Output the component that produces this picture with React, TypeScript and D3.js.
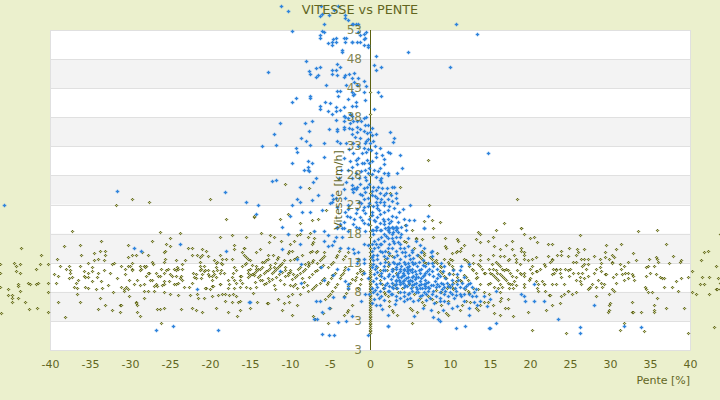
import React, { useEffect, useRef } from 'react'
import * as d3 from 'd3'

type Pt = [number, number]

const titleText = 'VITESSE vs PENTE'
const xTicks = [-40, -35, -30, -25, -20, -15, -10, -5, 0, 5, 10, 15, 20, 25, 30, 35, 40]
const yTicks = [53, 48, 43, 38, 33, 28, 23, 18, 13, 8, 3, -2]
const yTickLabels = ['53', '48', '43', '38', '33', '28', '23', '18', '13', '8', '3', '3']

// blue series (one reading per point, pente %, vitesse km/h)
const blueHigh: Pt[] = [
  [-11.1,57.1],[-10.3,56.2],[-6.1,57.2],[-4.5,56.4],[-4,57.1],[-6.2,55.4],[-6,55.7],[-5.1,55.5],[-3.1,55.5],[-3.1,55],[-2.8,54.8],[-5.7,54],[-2.3,54.1],[-2.1,54],[-1.8,54],[-1.5,54.1],[10.8,54.1],[-9.8,52.8],[-6,52.9],[-5.7,52.6],[-.5,52.6],[-.7,52.3],[-1.5,52.6],[-1.3,52.1],[-.6,51.6],[-.7,51.4],[13.4,52.3],
  [-6.3,52.1],[-6.3,51.6],[-5.3,50.7],[-4.8,50.9],[-4.8,50.5],[-4.6,51.4],[-4.2,51.6],[-4.2,51],[-3.3,51.7],[-3,51.6],[-3.1,50.9],[-2.3,51],[-2.2,50.9],[-1.6,50.9],[-1.3,50.9],[-.7,50.4],[-.2,50.5],[-.3,50],
  [-3.5,49.5],[-3.5,49.2],[4.8,49.3],[.8,48.5],[-8,47.6],[.5,46.9],[.7,46.2],[1.4,46.6],[10,46.6],[-4.1,47.1],[-3.7,46.6],[-6.8,46.4],[-6.2,46.6],[-4.7,46.2],[-4.3,46.2],[-12.7,45.7],[-7.6,45.9],[-7.5,45.4],[-6.8,45],[-6.5,45.2],[-4.8,45.4],[-4.1,45.2],[-3.1,45.2],[-3.2,45],[-2.6,45.4],[-2,45.6],[-2.3,44.7],[-1.5,44.7],[-.7,44.2],[-2,44],[-5.5,43.5],[-3,43.5],[-.5,43.3],[-1.6,43.5],[-4.1,42.5],[-3.7,42.5],[-2.2,42.3],[-2,42],[-.7,42.3],[1,42.3],[1.4,41.6],[-4,41.6],[-2.7,41.1],[-2.1,41.8],[-9.2,41.3],[-9.7,40.7],[-7.5,41.6],[-7.5,41.3],[-.6,40.9],[-5.6,40.6],[-5,40.4],[-1.8,40.7],[-2.3,40],[-1.8,39.9],[-6.3,39.9],[-6.3,39.4],[-4.3,39.7],[-3.3,39.7],[-3.7,39.2],[-4.3,39],[-5.2,39],[-4.8,38.5],[.5,39.5],
  [-3.2,38.3],[-3.1,38],[-2.5,38.5],[-2.2,38.2],[-2.7,37.8],[-.5,38],[-.7,37.8],[-4.2,37.5],[-3.2,37.3],[-2.5,37.1],[-2.1,37.3],[-1.6,37.3],[-1.1,37.3],[-.6,36.6],[-11.2,37],[-8.1,37],[-7.2,37.3],[-1.6,36.4],[-5.1,35.9],[-4.1,35.9],[-3.3,36.3],[-3.2,35.9],[-2.6,36.1],[-2.3,35.9],
]
const blueMiddle: Pt[] = [
  [-12,35.1],[-8.6,34.5],[-7.6,35.6],[-7.5,33.2],[-8,34],[-13.5,33],[-11.7,33.2],[-9.3,32.8],[-9.1,32.1],[-5.8,33.5],[-4.1,35.6],[-4.1,34],[-3.7,33.5],[-9.8,30.2],[-7.8,30.4],[-7.2,30.2],[-7.8,29.4],[-7.6,28.7],[-8.3,28.9],[-7.7,28.9],[-5.8,31.1],[-12.3,27],[-11.8,27.3],[-8.8,26.1],[-7.1,26.8],[-6.8,27.5],[-6.5,24.6],[-7.3,23.7],[-9.1,23.9],[-8.7,23.5],[-9.8,23],[-14,22.9],[-8.5,21.8],[-7.5,21.7],[-6,22],[-14.2,21.3],[-10,21],[14.75,31.9],
  [-2.2,35.2],[-1.6,35.4],[-.8,35.6],[0,35.4],[.7,35.2],[2.5,35.4],[-.2,34.2],[-.6,33.5],[0,33.5],[.4,34],[-.8,32.8],[-.2,32.5],[-1.5,33],[-2.1,33.5],[3,34.4],[2.9,33.7],[1.3,32.7],[2.3,32],[2.5,31.8],[3.8,31.5],[1.5,31.6],[1.8,30.9],[1.8,30],[1.3,29.2],[.8,31.1],[-2.1,31.8],[-1.5,31],[-1,31.8],[-.5,32],[-1,30.1],[-1.6,29.9],[-.1,30.2],[-.7,30.1],[-2.2,29.4],[-2.7,28.9],[-1.8,28.5],[-2.3,27.5],[-3,26.9],
  [4,29.2],[3.4,28.4],[2.3,28.5],[2.2,28],[1.7,28.4],[1.4,27.5],[-.2,28.4],[.3,28.2],[.8,27.8],[1.2,27.3],[1.4,26.8],[1,26.1],[.4,26],[-.1,26.5],[-.5,27.2],[-.6,27.8],[-.8,25.8],[-2.2,26.3],[-2,25.8],[-1.6,26.1],[-2.3,25.6],[-2.1,25.1],[-1.7,25.6],
  [3,26.1],[2.8,26],[3.3,24.9],[2.1,25.8],[2.3,23.9],[3.3,24.1],[3.4,23.2],[5,23],[1.2,24.9],[1.7,24.6],[.9,24.1],[.3,24.6],[-.3,24.1],[-1,24.6],[-.7,23.9],[-1.1,23.2],[-.7,22.5],[-.1,23.2],[.7,23.5],[1.2,23.4],[.4,22.7],[.9,22.4],[1.8,23.5],[2.4,22.7],[1.7,21.7],[1.3,21.3],[.2,21.8],[-.6,21.5],[-1.6,22.3],[-1.8,21.5],[-2,20.6],[-1,20.4],[-.1,20.6],[.9,20.8],[2.2,20.6],[3.2,20.8],
  [-4.8,24.6],[-4.8,23.5],[-5,23.2],[-4.6,23.9],[-4.2,24.1],[-3.3,25.6],[-3.1,24.1],[-2.7,23],[-2.8,22.2],[-4.1,22.5],[7.3,21.1],[6.7,18.9],[5.5,20.3],[4.2,20.6],[4.9,20.3],[3.3,19.1],[2.9,18.9],[2.4,19.8],[1.7,19.6],[1.2,19.8],[.5,20.3],[-.8,19.8],[-2.1,19.6],[-3.2,20],[-4.1,19.1],[-3.8,19.6],[-3.5,18.9],[-2.8,18.4],[-1.8,19.1],[-.6,18.4],[.4,18.7],[1.4,18.6],[2.2,18.7],
]
const blueUpperFill: Pt[] = [
  [-.4,26],[.2,25.3],[.8,25.5],[1.5,25.8],[2,25],[2.6,24.7],[2.8,23.6],[1.4,24],[.6,24.4],[-.6,25.2],[-1.3,24.8],[-1.4,23.5],[-.3,22.8],[.9,23],[1.7,23],[2.2,22.1],[1.1,22],[.3,21.2],[-.9,22],[-1.3,20.9],[.6,20.2],[1.6,20.6],[2.7,21.1],[3.6,21.8],[4.1,22.3],[3,22.4],[-.2,19.7],[.8,19.2],[1.8,20.1],[2.6,20.2],[3.5,20],[4.5,19.4],[-1.4,18.9],[-2.5,20.9],[-2.9,21],[-3.1,21.8],
  [-.6,29],[-.1,29.3],[.5,29],[1,28.8],[-1.1,28.7],[-1.4,27.6],[-1.2,26.6],[-.4,30.7],[.2,30.5],[.7,31.9],[.1,32.4],[.6,33],[-.5,33.9],[-1.2,34.5],[-1.9,34.6],[-1.3,35.9],[-.3,36.6],[.3,36.2],[-.4,35.3],[.2,35],[-1.8,30.6],[-2.5,30.4],[-2.6,32.5],[-3,33.5],[-3.3,31],[-3.6,29],[-3.9,27.5],
]
const blueLeft: Pt[] = [
  [-45.8,23],[-31.6,25.4],[-18.1,25.1],[-15.5,23.5],[-29.5,15.5],[-28.6,15.1],[-23.7,16.2],[-18,15],[-21.6,8.4],[-26.7,1.4],[-24.6,2.2],[-19,1.5],[-15.1,6.2],
  [-11,19.1],[-8.6,18.6],[-10.3,17.9],[-7,18.4],[-5.7,18.4],[-5.2,17.7],[-4.3,17.4],[-3.5,17.4],[-4.1,18.9],[-3.2,18.9],[-5.8,16.7],[-8.8,16.3],[-11,15.3],[-4.8,16],[-5.2,15.8],[-4.5,16.7],[-3.7,15.6],[-2.8,15.5],[-2.1,15.3],[-1.5,14.8],[-2,14.6],[-.8,16.3],[-.3,16],[-.8,13.7],[-.7,12.9],[-1.5,13.7],[-1.6,12.9],[-9.1,13.6],[-8.6,12.7],[-6.1,12.3],[-4.1,12],[-4.6,10.9],[-5.8,10],[-8.6,9.6],[-11.3,11.5],[-2.7,12],[-.8,11.2],[-.3,10.3],[-3.1,9.9],[-2.7,9.4],[-3.2,7.1],[-2.7,8.6],[-4.6,7.1],[-6.8,6.4],[-6.3,6.5],[-5.1,5.3],[-6,4.5],[-6.6,3.4],[-7,3.3],[-4,2.8],[-3,2.9],[-2.3,3.8],[-6,.7],[-5.1,.5],[-4.5,.5],[-15,6.2],[-.6,7.7],[-.1,7.7],[-1.1,6.5],[-.2,.6],
]
const blueRight: Pt[] = [
  [2.2,19.2],[2.4,18.9],[2.7,19.2],[2.9,18.9],[3.2,19.2],[3.4,18.9],[2.2,18.6],[2.4,18.2],[2.7,17.9],[2.9,18.2],[3.2,18.6],[3.5,18.2],[1.9,18.9],[1.2,18.6],[.7,18.6],[3.7,17.5],[3.2,17.5],[2.7,17.2],[2.2,17.2],[1.7,17.9],[1.4,17.5],[.9,19.2],[.2,18.6],[.4,17.9],[3.9,19.2],[4.5,18.6],[6.7,18.9],
  [1.7,16.8],[1.4,16.2],[.7,16.2],[.2,16.2],[1.2,16.2],[2.4,16.2],[2.9,16.8],[3.7,16.3],[4.2,15.5],[4.8,17.3],[5.7,16.8],[6.2,16],[6.8,15.6],[.2,15.1],[1.2,15.1],[1.9,15.1],[.9,14.4],[1.7,14.1],[2.4,14.6],[3.2,15.1],[3.7,15.6],[4.4,14.8],[5.2,14.8],[5.9,14.4],[7.7,15.1],[7.6,14.8],[7.7,14.1],[5.4,13.8],
  [.4,14.4],[.9,13.7],[.4,13.4],[.4,12.7],[.6,12],[.9,11.4],[1.4,11.2],[1.9,13.1],[2.4,12.7],[2.9,13.1],[3.4,12.7],[3.9,12.4],[4.4,12.7],[4.9,12.4],[5.4,12.7],[5.9,12.4],[6.4,12],[6.9,12.4],[7.4,12],[8.4,12],[9.2,12.4],[11.4,12.4],[11.2,11.7],[12.4,12.7],
  [1.7,12.4],[1.9,11.7],[2.4,11],[2.9,10.7],[3.2,10],[2.7,9.6],[2.4,9],[2.9,8.6],[3.4,8.6],[3.7,7.9],[4.2,7.2],[4.7,7.6],[5.2,8.2],[5.7,7.9],[6.2,7.2],[6.7,7.9],[7.2,8.2],[7.7,7.6],[8.2,7.2],[8.7,6.5],[9.2,6.5],[9.7,7.2],[10.2,7.7],[10.7,8.2],[11.2,7.6],[11.4,7.2],[8.9,9.6],[9.4,10.3],[9.9,11],[10.4,11.7],[10.9,11],[10.2,10],[10.9,9.3],[11.7,8.6],[12.4,7.6],[13.2,7.2],[14.2,7.2],[13.7,6.5],[13.4,5.8],[12.4,5.2],[12.4,4],[10.2,5.3],[7.9,3.6],[8.5,3.3],[8.7,2.9],[10.7,1.7],[11.9,2.2],[14.9,1.7],[5.5,3.8],[2.3,4],[2.3,2.2],[2.3,2.1],[.8,5.8],[1.3,5.8],[.2,6],[.9,7.7],[1.4,7.2],[.4,7.9],[.2,8.6],[.7,9.3],[1.2,9.6],[.7,10.3],[1.4,10.7],
  [6.9,11.3],[7.4,11],[7.9,10.7],[8.4,10.3],[6.9,9],[7.4,8.6],[7.9,8.2],[8.4,9.3],[1.7,10.3],[2.1,9.6],[2.2,8.2],[1.7,8.6],[1.2,8.2],[3.2,12],[3.7,12],[4.2,12],[2.7,12],[4.7,12],[5.2,12],
  [15,6.7],[15.8,8.2],[18.9,7.7],[19.4,6.5],[20.5,9.3],[20.5,6.5],[21.7,6.4],[28,5.7],[23.5,3.3],[15.7,2.7],[26.2,1.9],[26.2,1],[15,1.7],[19.3,7.2],[33.9,2],[31.7,2.2],
]
const blueCore: Pt[] = [
  [3.7,11.6],[4.1,11.2],[4.6,11.5],[5.3,11.4],[5.8,11],[6.3,11.3],[3.4,10.9],[3.9,10.5],[4.3,10.9],[4.8,10.6],[5.4,10.8],[6,10.5],[6.6,10.7],[3.6,10.1],[4.1,9.9],[4.5,10.3],[5,10],[5.6,10.2],[6.2,9.9],[6.9,10.1],[3.8,9.4],[4.4,9.2],[4.9,9.5],[5.5,9.3],[6.1,9.1],[6.7,9.4],[7.3,9.7],[3.3,9.9],[4.2,8.8],[5.1,8.7],[5.9,8.5],[6.5,8.7],[7.6,9.2],[8.1,9.8],[8.7,10.7],[7.1,11.6],[7.8,11.5],[8.5,11.1],[9.1,11.6],[3.1,9.1],[2.6,10.2],[2.2,10.7],[1.9,9.2],[1.6,11.8],[2.8,11.5],[3.3,12.3],[4.6,12.3],[5.6,13],[6.6,12.6],[7.9,12.5],[8.9,13],[6.6,13.4],[5,13.6],[3.8,13.6],[3,14],[4.4,14.2],[2.1,13.8],[1.2,13],[.7,12.4],[1.5,14.8],[2.8,15.6],[3.5,16.6],[4.7,15.9],[5.3,15.2],[.5,16.8],[1,17.1],[2,17.6],[3,16.4],[3.9,18],
  [9,8.4],[9.6,9.5],[10,8.9],[11,10],[11.7,10.6],[12.5,9.5],[13,8],[12,9],[10.5,6.9],[11.8,6.5],[13,6.3],[8,6],[7,6.6],[6,6.6],[5,7],[4.2,6.5],[3.2,7.2],[2.8,7.6],[9.3,7.7],[9.8,6],[10.9,5.5],[14.6,5.5],
  [4.3,11.7],[5,11.8],[5.6,11.6],[6.1,11.7],[3.5,11.3],[4,10.8],[4.7,11.2],[5.2,10.5],[5.7,10.6],[6.4,10.4],[6.8,10.9],[3.5,10.5],[4.2,10.1],[4.7,9.8],[5.3,9.8],[5.8,9.6],[6.4,9.4],[7,9.6],[3.7,9.7],[4.1,9.5],[4.6,9],[5.2,9.1],[5.7,8.9],[6.3,8.6],[6.9,8.6],[7.3,8.9],[7.9,9.2],[8.2,8.8],[8.6,9],[9.1,9.3],[9.2,8.9],[9.8,9],[10.3,9.4],[10.6,8.7],[11.2,8.8],[11.5,9.5],[12.2,9.4],[12.8,8.9],[13.3,8.5],[8.7,8],[9.4,8.1],[10,7.9],[10.8,7.5],[11.8,7.7],[12.7,7.3],[3.2,9.4],[2.8,8.9],[2.4,8.2],[2.6,7.6],[3.3,6.6],[3.8,6.9],[4.6,6.8],[5.4,6.5],[6.5,7.4],[7.5,7],[8.8,7],[4.3,8],[4.9,7.8],[6,7.9],[7,7.7],[3,13],[3.6,13],[4.2,13.1],[4.8,13],[5.2,13.2],[6.1,13.2],[7.2,13],[7.7,12.9],[2.3,15.5],[3.4,14.4],[4,14.9],[4.9,14.3],[6.4,14.8],[1,15.7],[.5,15.6],[.3,13.9],[.3,12.2],[.5,11],[.4,9.8],[.9,8.9],[.6,8.3],[1.1,7],[.5,6.8],[1.8,6.6],[3.1,5.9],[7.6,4.9],[6.6,5.2],[1.5,5.1],[9.1,4.9],
]

// olive series
const oliveZero: number[] = [.9,1.2,1.5,1.8,2.1,2.4,2.7,3,3.3,3.6,3.9,4.2,4.5,4.8,5.1,5.4,5.7,6,6.3,6.6,6.9,7.2,7.5,7.8,8.1,8.4,8.7,9,9.3,9.6,9.9,10.2,10.5,10.8,11.1,11.4,11.8,12.2,12.6,13,13.6,14.2,14.8,15.5,16.2,17.5,18.4,19.5,21,23,25,28,38.5,42.3]
const oliveFarLeft: Pt[] = [
  [-46.2,12.7],[-46.2,11.3],[-46.2,8.9],[-46.1,4.3],[-43.6,15.6],[-44.5,12.9],[-44.3,12.4],[-43.7,12.7],[-44.3,11.5],[-43.7,11.2],[-41.1,14.4],[-41.2,12.7],[-41.7,11.9],[-40.2,12.7],[-40.3,9.6],[-40.3,7.9],[-40.3,4.6],[-41.6,5.3],[-42.6,5.1],[-43.1,6.3],[-44,7],[-44.8,6.3],[-44.7,7.5],[-44.7,6.9],[-45.2,7.4],[-45.2,8.4],[-43.8,8.1],[-44,9.4],[-44,9],[-42.8,9.6],[-42.5,9.3],[-41.8,9.3],[-41.5,9.5],
  [-37.3,18.4],[-31.8,23],[-29.7,23.9],[-27.6,23.5],[-20,23.9],[-18,20.5],[-38.3,15.8],[-36.3,16],[-33.6,16.8],[-39.1,13.6],[-38.7,12.5],[-37.6,12.5],[-38,12],[-37.5,11.7],[-37.5,11.3],[-39.5,11],[-39,10.7],[-37.6,10.3],[-37.2,10.5],[-39.3,9.6],[-36.5,10],[-36.7,9.6],[-37,8.9],[-36.6,8.6],[-35.6,8.9],[-35.3,8.6],[-36.6,7.6],[-39,6.3],[-36.2,6.3],[-38.1,3.6],[-36.1,14.4],[-36.2,12.4],[-35.2,13],
  [-34.5,14.6],[-33.8,15],[-33.1,15],[-33.1,14.3],[-34.5,13.4],[-34,13.7],[-33.3,13.4],[-32.2,12.7],[-32,12.9],[-30.3,13.9],[-30.2,16],[-35.7,11.5],[-35.7,10.8],[-35.6,10.5],[-35.2,11.2],[-35.2,10.6],[-34.8,12.2],[-34.7,11.5],[-34.1,10.6],[-34,11.3],[-33.2,11.7],[-32.5,11.2],[-31.6,10.3],[-31.1,12.4],[-30.6,11.9],[-30.6,11],[-30.2,12.4],[-30.1,10],[-34.8,9.8],[-33.6,9.8],[-34.2,8.4],[-33.5,8.6],[-32.8,9.1],[-32.1,7.9],[-31.1,8.9],[-30.8,8.4],[-30.5,8.8],[-30.7,8.2],[-30.3,8.4],[-33.8,6.9],[-30.1,7.2],[-33.1,5.8],[-31.3,5.8],[-31.1,5.8],[-34,5],[-32.3,4.8],[-31.2,4.6],
]
const oliveLeft: Pt[] = [
  [-26.2,18.2],[-23.8,18.1],[-18.8,17.5],[-17.3,17.7],[-15.5,17.5],[-27.3,16.8],[-25,17.2],[-25.5,16.2],[-25,15.8],[-25.6,15],[-25.7,14.8],[-28.5,14.8],[-27.7,14.3],[-29.8,14.4],[-29.2,14.4],[-22.8,15.6],[-22.3,15.5],[-22.2,14.4],[-21,15.3],[-20.5,15.1],[-21.6,14.3],[-21.3,13.9],[-21,14.3],[-20.3,14.1],[-18.8,14.4],[-18,13.7],[-18.5,13.6],[-17,16],[-17,15.3],[-15.8,15.5],[-15.7,15.6],[-16,14.8],[-15.7,14.4],[-15.5,13.9],[-15.2,13.7],[-17.2,13.6],[-25.6,13.6],[-25.8,13.1],[-24.2,13.4],[-23.1,13.4],[-23.5,12.7],[-27.2,13.2],[-27.1,12.7],[-21.3,13.2],[-19.5,13.4],[-19.3,12.9],[-19.1,13.1],[-18.6,12.9],[-18.5,12.7],
  [-29.8,12.9],[-30,12.4],[-29.7,12],[-29.8,11.7],[-28.7,12.5],[-28.2,12.4],[-28,12.5],[-28.6,12],[-28.7,11.7],[-28.1,12.2],[-27.6,11.3],[-27.7,11.2],[-28,10.7],[-26.1,11.9],[-25.5,11.7],[-25.2,11.9],[-24.5,11.9],[-24.2,11.7],[-24,12],[-23.5,11.9],[-24.1,12.2],[-26.7,11.3],[-25.8,11.2],[-26.3,10.7],[-26.5,10.8],[-27.2,10.1],[-27.5,10],[-29.1,10],[-29.5,9.4],[-28.8,9.1],[-28.3,9.3],[-26.7,9.4],[-27,9],[-26.6,9],[-26,9.1],[-25.7,9.8],[-25.8,9.3],[-25,11],[-24.8,10.7],[-24.3,10.8],[-25.1,9.8],[-24.5,9.3],[-24.2,9.3],[-24,9.6],[-23.7,10.3],[-23.5,10.1],[-23.6,10.7],
  [-25,7.6],[-24,7.4],[-25.7,7.9],[-27,8.1],[-27.7,8.2],[-28.2,8.1],[-28.2,6.9],[-23.2,8.8],[-22.6,8.9],[-22.2,9.6],[-22,10.5],[-22.1,11.3],[-21.8,10.3],[-21.3,12.4],[-21.1,12],[-21.2,11.7],[-20.8,11.5],[-20.6,11.7],[-20.7,12.4],[-20.2,11.7],[-20.3,11],[-20.1,10.8],[-19.7,10.7],[-21,11],[-21.8,11],[-21.1,10.3],[-19.6,11.5],[-19.3,12.2],[-19.1,11.7],[-19.5,11],[-19.2,10.5],[-19.7,10],[-18.8,11.2],[-18.6,11.7],[-18.3,11.3],
  [-20.5,8.6],[-20.6,8.6],[-19.8,9],[-19.6,9],[-20,8.4],[-18.8,9.3],[-18.7,9.4],[-17.7,10.1],[-17.6,9.3],[-17.7,8.6],[-17,12.2],[-16.8,11.7],[-17.1,11.2],[-17.2,10.5],[-17,10.1],[-16.2,10.8],[-16.1,10.7],[-16,12.4],[-15.5,12.9],[-15.6,12.7],[-15.2,11.7],[-15.3,11.2],[-15.2,10.5],[-16.2,10.1],[-16.8,9.6],[-16.3,8.9],[-17,8.6],[-15.5,8.9],[-16,9.6],
  [-22.5,7.4],[-21.6,7.7],[-21.5,7],[-20.7,6.9],[-19.7,7.2],[-19,7.4],[-18.5,7.6],[-18.1,7.7],[-17.6,7.4],[-17.1,7.6],[-16.7,7.2],[-18.1,6.4],[-17.2,6.2],[-16.5,6.2],[-16.2,6.4],[-19.3,5.3],[-22.2,5.3],[-21.8,4.8],[-21,4.5],[-17.7,4.5],[-16.6,3.9],[-16.3,4.8],[-29.3,6.2],[-29.2,6],[-29.1,5.8],[-29.1,4.6],[-28.8,3.8],[-26.6,5],[-26.2,5],[-25.7,5.2],[-23.6,5],[-26.1,2.7],
]
const oliveStreaks: Pt[] = [
  [-13.6,18.1],[-12.5,17.7],[-12,17.4],[-11.1,16.7],[-10.3,17.9],[-12.6,16.5],[-9.5,16.8],[-10,16.3],[-9.1,17.7],[-8.8,17.9],[-7.7,17.5],[-7.5,18.1],[-7,17.2],[-7.1,16.5],[-7.3,16.2],[-10.1,15.1],[-9.8,15.1],[-10.2,14.6],[-14.2,14.8],[-13.7,15.3],[-12.7,14.4],[-12.1,14.3],[-11.5,13.9],[-11.6,13.7],[-9.5,13.6],[-9.2,13.8],[-9.1,13.9],[-8.5,14.4],[-7.5,14.8],[-7.3,15],[-6.6,15],[-6.7,14.8],[-5.8,14.8],
  [-15,10.9],[-14.8,11.1],[-14.5,11.3],[-14.3,11.6],[-14,11.9],[-13.8,12],[-13.5,12.2],[-13.5,13.1],[-13.3,13.2],[-13,13.4],[-12.8,13.6],[-12.3,11.2],[-12,11.5],[-11.8,11.9],[-11.5,12.2],[-11.3,12.6],[-11,13],[-10.8,13.4],[-14,10.6],[-13.7,10.9],[-13.3,11.2],[-13,11.5],[-12.8,11.8],[-12.5,12.1],
  [-9.8,10.2],[-9.4,10.5],[-9.1,10.9],[-8.8,11.2],[-8.4,11.6],[-8.1,12],[-7.8,12.5],[-7.6,12.7],[-7.3,13.2],[-7.1,13.5],[-7.8,13.1],[-8.1,12.8],[-7.7,8.1],[-7.3,8.5],[-7,8.8],[-6.7,9.2],[-6.3,9.6],[-6,10],[-5.8,10.4],[-7.6,10.6],[-7.3,11],[-6.9,11.5],[-6.6,11.8],[-6.3,12.3],[-5.9,12.6],
  [-5.6,6.8],[-5.3,7.2],[-5,7.7],[-4.7,8.2],[-4.4,8.8],[-4.1,9.3],[-5.4,9.3],[-5.2,9.7],[-4.9,10.3],[-4.7,10.9],[-4.4,11.3],[-3.8,10.3],[-3.6,10.9],[-3.4,11.3],[-3.3,11.8],[-3.1,12.3],[-4.3,13.9],[-4.1,14.4],[-3.9,15],[-3.8,15.6],[-3.4,13.6],[-3.1,14.2],[-2.8,14.9],[-2.7,9],[-2.5,9.6],[-2.3,10.2],[-1.9,10],[-1.8,10.6],[-1.6,11.2],[-1.3,11.5],[-1.2,12],[-3.2,4.1],[-2.9,4.5],[-2.7,4.8],[-5.9,4.3],[-5,5.2],[-5.2,2.7],[-7.1,3.8],[-6.9,3.4],
  [-6.6,13],[-6.3,13.4],[-6,13.8],[-5.7,14.1],[-5.2,12.2],[-4.9,12.7],[-4.6,13.2],[-3.2,7.2],[-3,7.8],[-2.8,8.4],[-1.5,8.6],[-1.3,9.4],[-1.1,10.2],[-1,11],[-.9,11.6],[-9,11.9],[-8.7,12.2],[-10.6,10.7],[-10.3,11.2],[-10,11.4],[-12.6,9.9],[-12.2,10.2],[-11.8,10.6],[-11.4,11],[-11,11.4],[-10.6,11.8],
  [-15,13.5],[-14.8,12.6],[-14.2,12],[-14.3,12.5],[-13.5,10],[-13.8,10],[-14.5,10.9],[-15,12],[-12.5,12.6],[-11.9,13],[-12,12.3],[-11.3,12.6],[-13,9.6],[-13.3,9.3],[-12.7,10.3],[-12,9.2],[-11.9,8.4],[-14.3,8.8],[-14.6,7.8],[-15,8.6],[-14.4,9.7],[-11.3,10],[-10.8,9.3],[-10.3,10.9],[-9.6,11],[-10,9.2],[-9.4,9.3],[-9.6,9],[-8.4,8.8],[-8.8,7.7],[-9.1,8.6],[-9.8,7.6],[-10.3,7.3],[-11.5,6.7],[-10.7,6],[-10.1,6.2],[-12.9,6],[-12.7,6],[-14.1,6.2],[-15,5.2],[-11,4.8],[-9.7,4.1],[-9.1,5.7],[-8.2,9.7],[-7.9,9.2],[-8.5,10.4],[-10,13.5],[-10.6,12.3],[-10,11.7],[-2.2,5.8],
  [-10.6,26.5],[-7.6,25.8],[3.8,26.1],[2.5,24.9],[7.4,23],[7.2,30.6],[-5.5,22],[-10.3,21.3],[-11.2,20.6],[-14.5,20.8],[-14.5,21.1],[-8.7,19.8],[-7.2,20.3],[-6.5,20.6],[-7,18.4],[7.8,20.4],[8.7,20],[6.8,20.1],[4.4,19.4],[5.3,18.6],[7.9,18.9],
]
const oliveCenter: Pt[] = [
  [5.8,17.2],[5.8,17],[6.5,17],[7.9,17.4],[9.4,17.2],[10.9,17],[11,16.8],[13.5,18.2],[13.7,18],[13.2,17],[14.7,16.8],[13.8,16.5],[4.3,16.7],[4.5,16.5],[9.4,15.8],[9.5,15.5],[11.7,16],[11.4,15.5],[10.9,15.1],[10.8,14.8],[11.3,15.1],[5.5,15.6],[6.5,15],[6.7,14.6],[6.8,14.4],[8.4,14.6],[10.2,14.6],[10,13.6],[10.3,13.4],[12.9,14.4],[13.8,14.4],[13.7,13.4],[12.9,12.9],[14.8,13.7],
  [6,14.3],[6.3,13.9],[6.5,13.6],[6.8,13.2],[7,12.9],[7.5,13.9],[7.8,13.6],[8,13.2],[8.2,13.4],[8.4,12.9],[8.7,12.5],[8.9,12.2],[9.2,13.7],[9.7,13.1],[9.9,12.7],[10.2,12.4],[10.4,12],[11.8,13.7],[12,13.4],[12.3,13.1],[12.4,12.4],[12.7,12],[12.9,11.7],[13.2,11.3],[13.5,12.7],[13.8,12.4],[14,12],[14.3,11.3],[8.8,11.5],[9,11.2],[9.3,10.7],[9.5,10.3],[9.9,11.3],[10.4,11],[10.9,10.5],[11.2,10.1],[11.4,9.8],[11.8,10.9],[12,10.5],[12.3,10.1],[13.3,10.3],[13.4,10.5],[9.9,9.2],[10.2,8.8],[10.4,8.5],[11.7,8.7],[11.9,8.4],[12.2,8.1],[12.4,7.8],
  [2.2,14.8],[2.4,14.4],[2.7,14.1],[1.9,13.7],[2.2,13.1],[2.2,12.4],[2.1,11.7],[.9,12.3],[1.2,11.7],[1.1,10.9],[1.3,10],[1.5,9.3],[1.6,8.6],[2.9,12],[3.2,11.2],[3.8,9.4],[4,8.6],[1.9,7.7],[2.2,7.2],[2.4,6.5],[1.7,7.9],[2.9,9.3],[3.2,8.6],[3.5,8],[4.9,9.4],[5.2,8.9],[5.5,7.7],[6.2,6.9],[6.5,6.2],[6.8,5.8],[5,5.2],[5.3,4.8],[5.9,4.5],[5.3,2.7],[2.4,5.6],[2.8,4.8],[2.9,4.5],[3.4,4],[8.5,4.6],[9.5,4.3],[9.8,4.1],[7.3,7.2],[7.8,6.7],[8.3,6.2],[8.9,5.8],[9.7,6.5],[11.5,5.7],[11.2,4.8],[12.5,6.2],[12,6.5],[13.2,5.2],[13.5,4.8],[13.8,5.8],[14.2,6.2],[14.8,6.2],[14.9,7.7],[14.2,7.9],[13.5,8.4],[12.9,8.6],[13.7,9.4],[10.4,9.5],[10.7,9.8],[9.6,8.6],[8.9,8],[8.2,8.3],[14.4,11.3],[14.9,11.9],[14.8,9.3],
]
const oliveRight: Pt[] = [
  [15.8,18.7],[18.9,18.9],[19.3,17.9],[15.4,17.5],[20,17.2],[20.5,17.4],[26.3,17.7],[17.7,16.8],[20.9,16.5],[22.3,16.2],[22.8,16.2],[15.5,15.8],[16.3,15.3],[17,16],[17.8,15.3],[18.9,15.6],[18.9,15.1],[19.3,14.8],[19.2,14.4],[23.9,15],[23.9,14.3],[23.4,14.3],[22.2,14.1],[22.8,13.7],[22.7,13.4],[22.5,13.1],[24.9,15.5],[24.8,14.1],[25.9,15.3],[26.7,15.3],[26,14.8],[25.7,14.4],[28,14.1],[28.8,13.7],[29.5,16],[29.4,14.8],[29.4,13.9],[29.9,13.7],
  [15.4,14.4],[16.2,14.1],[16.8,14.1],[17.4,13.7],[18,14.3],[18.3,13.7],[17.3,13.4],[18.3,13.1],[19.2,13.7],[19.8,13.4],[20.3,13.6],[20.7,13.9],[15.2,12.7],[15.7,13.1],[16,12.7],[16.3,12.4],[16.5,12],[16.8,11.7],[17,12],[17.3,11.7],[15.4,12],[15.7,11.7],[15.9,11.3],[16.2,11],[15,11.3],[15.3,11],[15.5,10.7],[15.8,10.3],[16,10],[16.5,10.7],[16.8,10.3],[17,10],[17.3,9.6],[17.5,9.3],[15,9.6],[15.5,8.9],[16.3,9.3],[16.5,8.9],[16,8.6],[16.2,7.9],[16.4,7],[16.3,6.5],
  [17.5,11.3],[17.8,10.7],[18.3,10.5],[18.4,11.7],[18.7,12.7],[18.7,11.3],[18.9,11],[19.2,10.7],[19.3,11.3],[17.8,9.4],[18,9.8],[18.2,9.1],[17.9,8.6],[17.4,8.6],[19.2,8.9],[19.3,9.3],[19.9,10.1],[20,10.3],[20.2,11.2],[20,12],[20.2,12.5],[20.7,11.5],[20.9,11.5],[21.2,11.9],[21.7,12.7],[21.9,12.4],
  [20.8,9.8],[21,9.3],[21.7,9.3],[21.8,9.3],[21.5,9.9],[20.9,8.6],[21,8.1],[21.9,8.2],[22.4,7.4],[22.5,7.4],[23.3,9.3],[22.7,9.4],[22.9,11.9],[23.2,12],[23.3,11.7],[22.8,11],[23,11.3],[23.8,11.2],[23.9,10.5],[23.8,11.9],[24.4,11.9],[24.7,11.7],[25,11.9],[24.9,10.8],[25.4,11.3],[26,11.2],[26.2,10.5],[25.7,10],[26.3,9.8],[26.4,9.3],[24.3,9.3],[24.7,8.2],[24.8,8.2],[25.3,7.7],[25.7,7.9],[23.9,7.2],[24.2,7.6],[22.7,5.7],[23.8,6],[22,4.8],[19.8,4.6],
  [26.7,12.7],[26.5,12.4],[25.4,13.1],[25.7,13.1],[26.4,13.6],[26.8,13.7],[27.3,13.7],[27.2,12.7],[27,12],[26.5,11.3],[27.2,10.7],[26.8,10.3],[27.7,9.3],[27.5,8.9],[27.4,8.6],[27.3,8.4],[28.2,8.9],[28.9,9.6],[29,8.9],[29.2,9.4],[28.5,10.1],[28,11.3],[28.3,12],[28.7,12.2],[28.9,11.5],[29.4,11],[29.5,11],[28.9,12.9],[28.2,7.2],[29.9,7.7],[20.2,1.5],[24.5,.9],[15.5,4.3],[16.3,4.1],[17.9,3.8],[16.9,5.3],[17.2,5.3],[15.4,5.8],[17.3,6.7],[29.9,4.8],[29.7,4.5],[29.9,5.8],
]
const oliveFarRight: Pt[] = [
  [18.4,23.9],[16.8,19.8],[18.9,18.9],[33.5,18.4],[35.9,18.6],[37,16.3],[31.4,16.2],[30.8,15.3],[30.3,14.3],[30.5,13.9],[32.9,14.6],[32.2,13.1],[33.2,13.4],[30.2,13.2],[30.3,13],[31.3,12.7],[31.7,12.5],[31.4,11.9],[34.9,13.6],[34.8,12.5],[35.5,12.5],[35.8,13.9],[35.9,13.6],[36,13.2],[37.9,14.1],[37.4,12.9],[38.7,13.2],[38.9,13.4],[34.5,12.2],[34.5,10.8],[35,11.3],[35.7,11],[36.2,10.6],[36.5,10.3],[36.8,10.3],[31.9,11.2],[32.2,11.2],[32.7,11],[32.9,10.8],[30.4,10.6],[30.7,11],[31.7,10.1],[32.2,10.3],[31.5,11],[30.7,9.5],[33,10.1],[30.2,8.4],[30.5,8.2],[34.4,8.8],[34.5,8.4],[34.8,7.9],[35.3,7.9],[35.9,6.9],[37.8,8.8],[38.5,8.2],[38.3,9.8],[38.9,10.3],[36.7,8.9],[32.7,6.3],[30,6],[35.5,5.8],[32.8,4.5],[32.9,4.5],[33.9,4.6],[35.5,4.8],[35.5,4.5],[37,5.3],[39.3,5.3],[31.7,2.7],[31.2,1.5],[34.3,1.2],[39.8,1],[43,2],[41.4,13.4],[41.8,14.8],[42.3,15],[43.7,18],[43.3,12.4],[40.2,11.5],[39.8,10.6],[41.5,10.5],[42.4,10.6],[43.5,10.3],[43.7,9.5],[41.2,9.3],[41.8,9.3],[40.2,7.9],[40.8,7.7],[42.4,7.7],[43.2,8.4],[43.4,8.4],[43.7,8.4],
]

const blueAll = [...blueHigh, ...blueMiddle, ...blueUpperFill, ...blueLeft, ...blueRight, ...blueCore]
const oliveAll: Pt[] = [
  ...oliveZero.map((v): Pt => [0, v]),
  ...oliveFarLeft, ...oliveLeft, ...oliveStreaks, ...oliveCenter, ...oliveRight, ...oliveFarRight,
]

const W = 720
const H = 400
const margin = { top: 30, right: 30, bottom: 50, left: 50 }
const pageBg = '#ebf0cd'
const band = '#f3f3f3'
const gridCol = '#e0e0e0'
const textCol = '#62661f'
const axisCol = '#5c6110'
const blue = '#2f84dc'
const fontFam = '"DejaVu Sans", sans-serif'

const App = () => {
  const svgRef = useRef<SVGSVGElement>(null)

  useEffect(() => {
    if (!svgRef.current) return
    const svg = d3.select(svgRef.current)
    svg.selectAll('*').remove()

    const x = d3.scaleLinear().domain([-40, 40]).range([margin.left, W - margin.right])
    const y = d3.scaleLinear().domain([-2, 53]).range([H - margin.bottom, margin.top])

    svg.append('rect').attr('width', W).attr('height', H).attr('fill', pageBg)
    svg.append('rect')
      .attr('x', margin.left).attr('y', margin.top)
      .attr('width', W - margin.left - margin.right)
      .attr('height', H - margin.top - margin.bottom)
      .attr('fill', '#fff')

    // alternating bands, the top one stays white
    svg.append('g').selectAll('rect')
      .data(d3.pairs(yTicks).filter((_, i) => i % 2 === 1))
      .join('rect')
      .attr('x', margin.left)
      .attr('width', W - margin.left - margin.right)
      .attr('y', (d) => y(d[0]))
      .attr('height', (d) => y(d[1]) - y(d[0]))
      .attr('fill', band)

    svg.append('g').selectAll('line')
      .data(yTicks)
      .join('line')
      .attr('x1', margin.left).attr('x2', W - margin.right)
      .attr('y1', (d) => Math.round(y(d)) + 0.5).attr('y2', (d) => Math.round(y(d)) + 0.5)
      .attr('stroke', gridCol)

    svg.append('path')
      .attr('d', `M${margin.left + 0.5},${margin.top}V${H - margin.bottom + 0.5}H${W - margin.right + 0.5}V${margin.top}`)
      .attr('fill', 'none').attr('stroke', gridCol)

    // x axis
    const xAxis = d3.axisBottom(x).tickValues(xTicks).tickSize(0).tickPadding(10)
    const gx = svg.append('g').attr('transform', `translate(0,${H - margin.bottom})`).call(xAxis)
    gx.select('.domain').remove()
    gx.selectAll('text')
      .attr('fill', textCol).attr('font-size', 11).attr('font-family', fontFam)
      .text((d) => String(d))

    svg.append('line')
      .attr('x1', x(0) + 0.5).attr('x2', x(0) + 0.5)
      .attr('y1', margin.top).attr('y2', H - margin.bottom)
      .attr('stroke', axisCol)

    // olive marks
    svg.append('g').selectAll('path')
      .data(oliveAll)
      .join('path')
      .attr('transform', (d) => `translate(${Math.round(x(d[0])) + 0.5},${Math.round(y(d[1])) + 0.5})`)
      .attr('d', 'M0,-1.2L1.2,0L0,1.2L-1.2,0Z')
      .attr('fill', '#c9cf8f')
      .attr('stroke', '#4c5200')
      .attr('stroke-width', 1)

    // blue marks
    svg.append('g').selectAll('path')
      .data(blueAll)
      .join('path')
      .attr('transform', (d) => `translate(${Math.round(x(d[0])) + 0.5},${Math.round(y(d[1])) + 0.5})`)
      .attr('d', 'M-1.8,0H1.8M0,-1.8V1.8')
      .attr('stroke', blue)
      .attr('stroke-width', 1.3)
      .attr('fill', 'none')

    // y tick labels sit on the zero line
    svg.append('g').selectAll('text')
      .data(yTicks)
      .join('text')
      .attr('x', x(0) - 8)
      .attr('y', (d) => y(d) + 4)
      .attr('text-anchor', 'end')
      .attr('fill', textCol)
      .attr('fill-opacity', 0.8)
      .attr('font-size', 12)
      .attr('font-family', fontFam)
      .text((_, i) => yTickLabels[i])

    svg.append('text')
      .attr('transform', `translate(342,190) rotate(-90)`)
      .attr('text-anchor', 'middle')
      .attr('fill', textCol)
      .attr('font-size', 11)
      .attr('font-family', fontFam)
      .text('Vitesse [km/h]')

    svg.append('text')
      .attr('x', W - margin.right)
      .attr('y', 384)
      .attr('text-anchor', 'end')
      .attr('fill', textCol)
      .attr('font-size', 11)
      .attr('font-family', fontFam)
      .text('Pente [%]')

    svg.append('text')
      .attr('x', 360)
      .attr('y', 14)
      .attr('text-anchor', 'middle')
      .attr('fill', textCol)
      .attr('font-size', 12.8)
      .attr('font-family', fontFam)
      .text(titleText)
  }, [])

  return <svg ref={svgRef} width={W} height={H} style={{ position: 'absolute', left: 0, top: 0 }} />
}

export default App
